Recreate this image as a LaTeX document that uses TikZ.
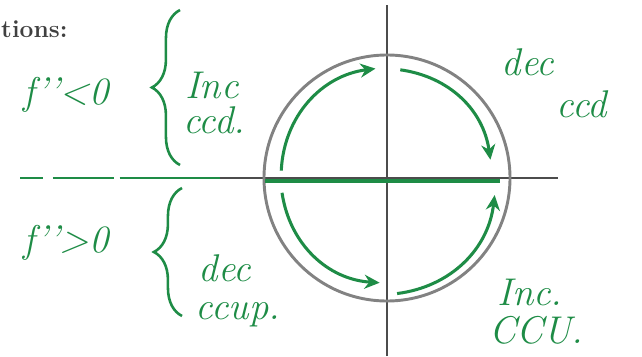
\documentclass[tikz,border=0pt]{standalone}
\usepackage{fontspec}
\usepackage{xcolor}
\usepackage{tikz}
\usetikzlibrary{arrows,arrows.meta,positioning,calc,decorations.pathreplacing}
\definecolor{ink}{RGB}{30,140,70}
\definecolor{pencil}{RGB}{130,130,130}

\begin{document}
\begin{tikzpicture}[
    x=0.03cm, y=0.03cm,
    note/.style={text=ink, font=\fontsize{33}{35}\selectfont\itshape, inner sep=0pt},
    arrow/.style={->, >={Stealth[length=13pt, width=12pt]}, draw=ink, line width=2.6pt},
    axis/.style={draw=black!70, line width=2pt},
    brace/.style={draw=ink, line width=2.2pt, decorate, decoration={brace, amplitude=24pt}}
]
\useasboundingbox (0,0) rectangle (642,356);

% printed heading, cut at the left edge
\node[anchor=west, text=black!75, font=\fontsize{21}{23}\selectfont\bfseries, inner sep=0pt] (head) at (1,327) {tions:};

% axes and circle
\coordinate (o) at (387,178);
\coordinate (xl) at (220,178);
\coordinate (xr) at (558,178);
\coordinate (yt) at (387,351);
\coordinate (yb) at (387,0);
\draw[axis] (xl) -- (xr);
\draw[axis] (yb) -- (yt);
\draw[pencil, line width=2.5pt] (o) circle (123);

% green split line
\coordinate (d0) at (20,178);
\coordinate (g0) at (265,175);
\coordinate (g1) at (500,175);
\draw[ink, line width=2.2pt, dash pattern=on 20pt off 8pt on 52pt off 5pt on 80pt off 0pt] (d0) -- (xl);
\draw[ink, line width=3pt] (g0) -- (g1);

% arrows along the circle
\coordinate (a1s) at ($(o)+(176:106)$);
\coordinate (a1e) at ($(o)+(96:110)$);
\coordinate (a2s) at ($(o)+(83:109)$);
\coordinate (a2e) at ($(o)+(10:105)$);
\coordinate (a3s) at ($(o)+(188:106)$);
\coordinate (a3e) at ($(o)+(266:105)$);
\coordinate (a4s) at ($(o)+(275:116)$);
\coordinate (a4e) at ($(o)+(351:109)$);
\draw[arrow] (a1s) to[bend left=40] (a1e);
\draw[arrow] (a2s) to[bend left=37] (a2e);
\draw[arrow] (a3s) to[bend right=39] (a3e);
\draw[arrow] (a4s) to[bend right=38] (a4e);

% left notes
\node[note] (fneg) at (66,261) {f'{}'{}<0};
\node[note] (fpos) at (66,113) {f'{}'{}>0};
\coordinate (b1b) at (180,191);
\coordinate (b1t) at (180,346);
\coordinate (b2b) at (182,40);
\coordinate (b2t) at (182,168);
\draw[brace] (b1b) -- (b1t);
\draw[brace] (b2b) -- (b2t);
\node[note] (inc1) at (212,271) {Inc};
\node[note] (ccd1) at (214,236) {ccd.};
\node[note] (dec1) at (225,88) {dec};
\node[note] (ccup) at (238,41) {ccup.};

% right notes
\node[note] (dec2) at (528,294) {dec};
\node[note] (ccd2) at (582,252) {ccd};
\node[note] (inc2) at (530,64) {Inc.};
\node[note] (ccu) at (536,26) {CCU.};

\end{tikzpicture}
\end{document}
